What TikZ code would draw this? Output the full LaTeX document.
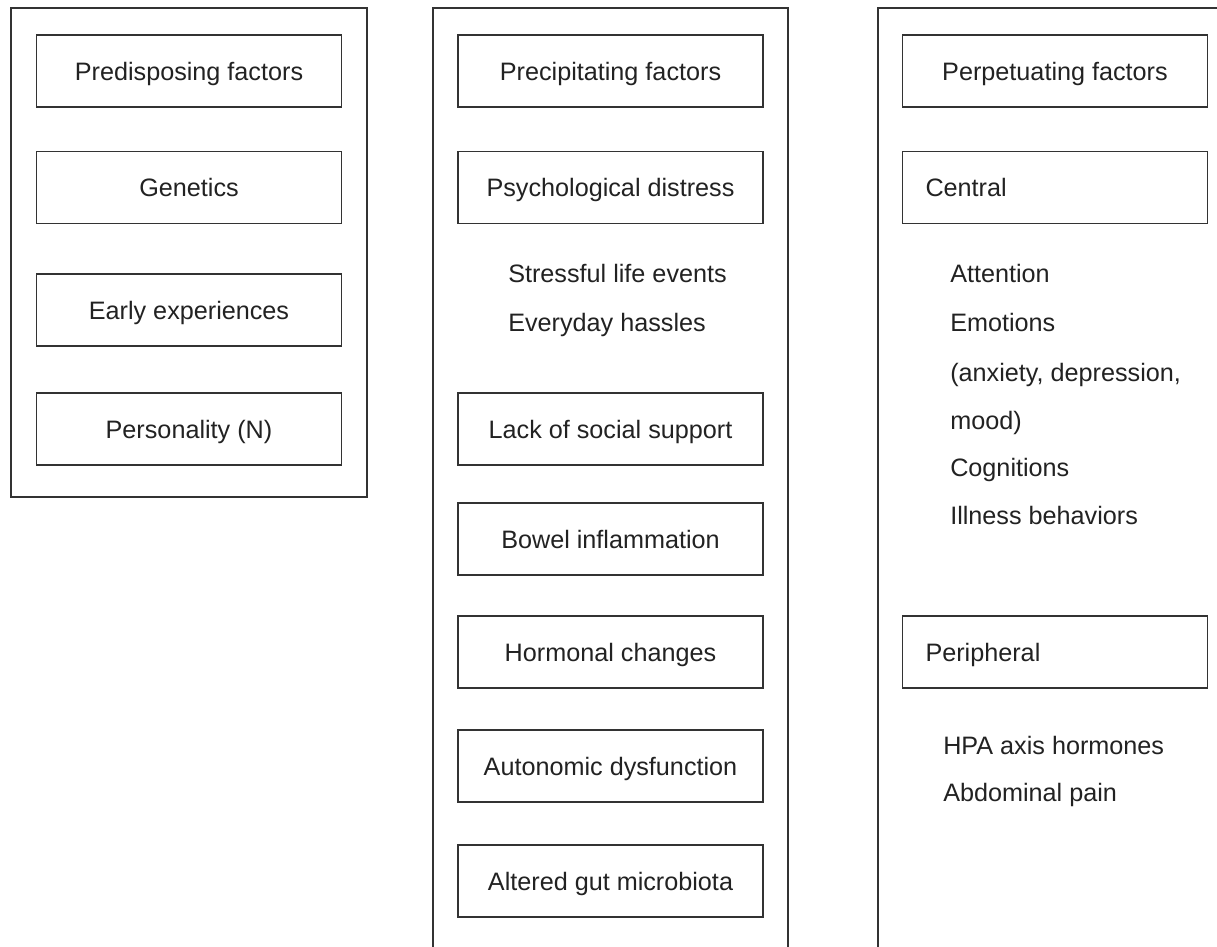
\documentclass[tikz,border=0pt]{standalone}
\usepackage{fontspec}
\setmainfont{Liberation Sans}
\usepackage{tikz}
\usetikzlibrary{positioning}
\definecolor{ink}{HTML}{222222}
\definecolor{frame}{HTML}{333333}
\tikzset{
  panel/.style={draw=frame, line width=1.4pt},
  factorbox/.style={draw=frame, line width=1.4pt, minimum width=228.75pt,
    minimum height=54pt, inner sep=0pt, text=ink,
    font=\fontsize{18.9}{22}\selectfont, text height=13.6pt, text depth=0pt},
  leftbox/.style={factorbox, text width=194.25pt, inner xsep=17.25pt, align=left},
  listitem/.style={anchor=west, inner sep=0pt, text=ink,
    font=\fontsize{18.9}{22}\selectfont, text height=13.6pt, text depth=0pt}
}

\begin{document}
\begin{tikzpicture}[x=0.75pt, y=-0.75pt]
\clip (0,0) rectangle (1217,946);
\fill[white] (0,0) rectangle (1217,946);

% ---------- the three panels
\draw[panel] (11,8) rectangle (367,497);
\draw[panel] (433,8) rectangle (788,960);
\draw[panel] (878,8) rectangle (1234,960);

% ---------- predisposing factors
\foreach \n/\y/\txt in {1/71/Predisposing factors, 2/187.5/Genetics,
    3/310/Early experiences, 4/429/Personality (N)}
  \node[factorbox] (pre\n) at (189,\y) {\txt};

% ---------- precipitating factors
\foreach \n/\y/\txt in {1/71/Precipitating factors, 2/187.5/Psychological distress,
    3/429/Lack of social support, 4/539/Bowel inflammation,
    5/652/Hormonal changes, 6/766/Autonomic dysfunction,
    7/881/Altered gut microbiota}
  \node[factorbox] (pcp\n) at (610.5,\y) {\txt};
\foreach \n/\y/\txt in {1/273/Stressful life events, 2/322/Everyday hassles}
  \node[listitem] (stress\n) at (508,\y) {\txt};

% ---------- perpetuating factors
\node[factorbox] (per) at (1055,71) {Perpetuating factors};
\node[leftbox] (central) at (1055,187.5) {Central};
\foreach \n/\y/\txt in {1/273/Attention, 2/322/Emotions,
    3/372/{(anxiety, depression,}, 4/420/mood), 5/467/Cognitions,
    6/515/Illness behaviors}
  \node[listitem] (cen\n) at (950,\y) {\txt};
\node[leftbox] (periph) at (1055,652) {Peripheral};
\foreach \n/\y/\txt in {1/745/HPA axis hormones, 2/792/Abdominal pain}
  \node[listitem] (peri\n) at (943,\y) {\txt};
\end{tikzpicture}
\end{document}
